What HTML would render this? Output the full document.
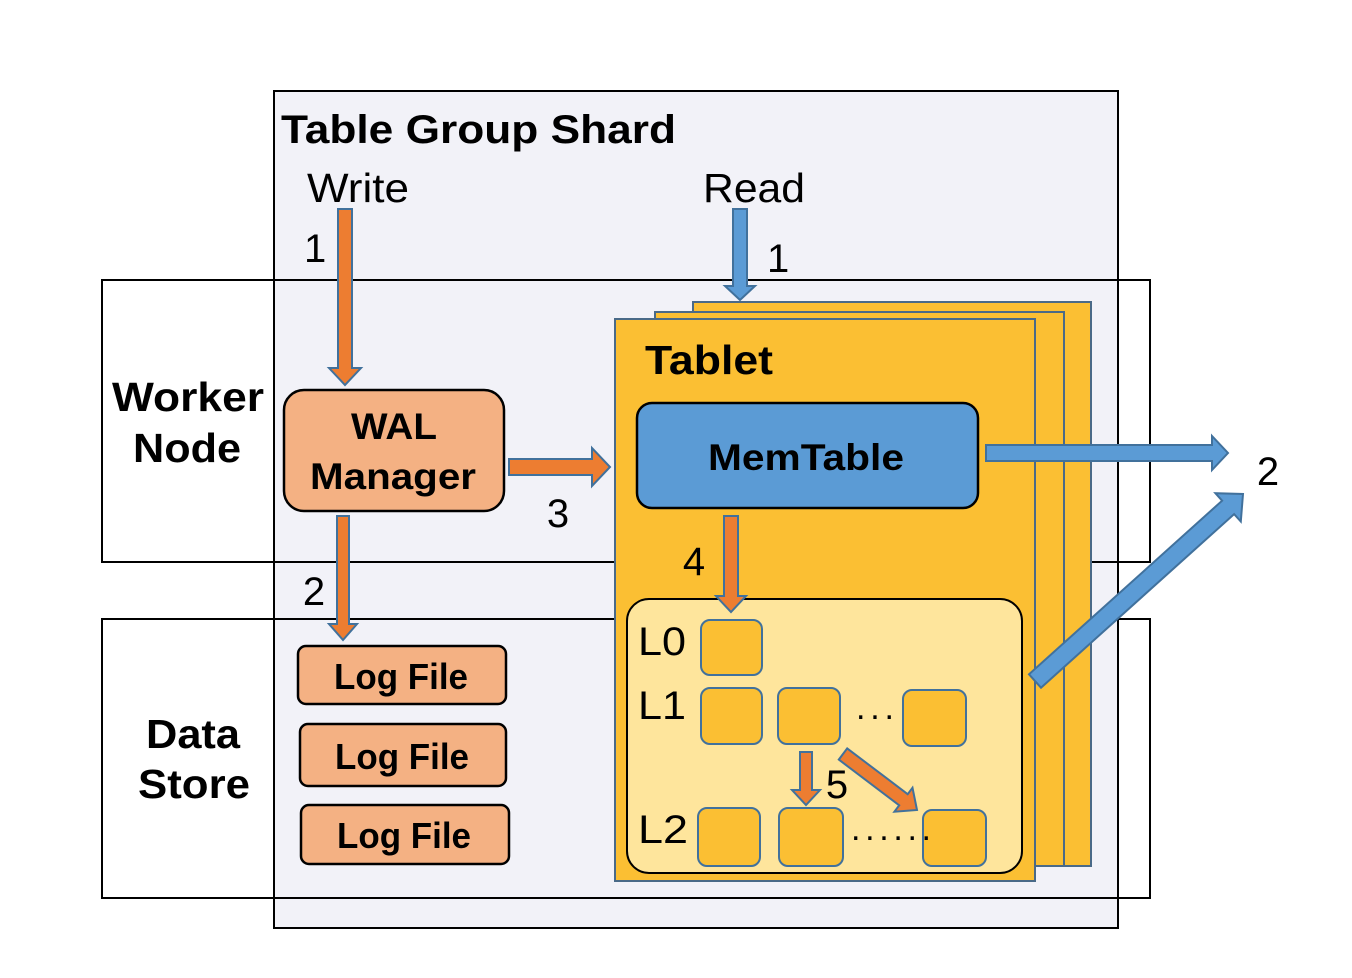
<!DOCTYPE html>
<html><head><meta charset="utf-8"><style>
body{margin:0;background:#fff}
svg{display:block}
text{font-family:"Liberation Sans",Arial,sans-serif;fill:#000}
.b{font-weight:bold}
</style></head><body>
<svg id="s" width="1352" height="978" viewBox="0 0 1352 978" xmlns="http://www.w3.org/2000/svg">
<rect x="274" y="91" width="844" height="837" fill="#f2f2f8"/>
<rect x="102" y="280" width="1048" height="282" fill="none" stroke="#000" stroke-width="2"/>
<rect x="102" y="619" width="1048" height="279" fill="none" stroke="#000" stroke-width="2"/>
<rect x="274" y="91" width="844" height="837" fill="none" stroke="#000" stroke-width="2"/>
<rect x="693" y="302" width="398" height="564" fill="#fbbf33" stroke="#4a6a88" stroke-width="2"/>
<rect x="655" y="312" width="409" height="554" fill="#fbbf33" stroke="#4a6a88" stroke-width="2"/>
<rect x="615" y="319" width="420" height="562" fill="#fbbf33" stroke="#4a6a88" stroke-width="2"/>
<rect x="637" y="403" width="341" height="105" rx="15" fill="#5b9bd5" stroke="#000" stroke-width="2.5"/>
<rect x="627" y="599" width="395" height="274" rx="22" fill="#fee59c" stroke="#000" stroke-width="2"/>
<g fill="#fbbf33" stroke="#41719c" stroke-width="2">
<rect x="701" y="620" width="61" height="55" rx="9"/>
<rect x="701" y="688" width="61" height="56" rx="9"/>
<rect x="778" y="688" width="62" height="56" rx="9"/>
<rect x="903" y="690" width="63" height="56" rx="9"/>
<rect x="698" y="808" width="62" height="58" rx="9"/>
<rect x="779" y="808" width="64" height="58" rx="9"/>
<rect x="923" y="810" width="63" height="56" rx="9"/>
</g>
<rect x="284" y="390" width="220" height="121" rx="20" fill="#f4b183" stroke="#000" stroke-width="2.5"/>
<g fill="#f4b183" stroke="#000" stroke-width="2.5">
<rect x="298" y="646" width="208" height="58" rx="8"/>
<rect x="300" y="724" width="206" height="62" rx="8"/>
<rect x="301" y="805" width="208" height="59" rx="8"/>
</g>
<g id="arrows"></g>
<text x="281" y="143" class="b" font-size="40" textLength="395" lengthAdjust="spacingAndGlyphs">Table Group Shard</text>
<text x="307" y="202" font-size="41" textLength="102" lengthAdjust="spacingAndGlyphs">Write</text>
<text x="703" y="202" font-size="41" textLength="102" lengthAdjust="spacingAndGlyphs">Read</text>
<text x="304" y="262" font-size="40">1</text>
<text x="767" y="272" font-size="40">1</text>
<text x="112" y="411" class="b" font-size="41" textLength="152" lengthAdjust="spacingAndGlyphs">Worker</text>
<text x="133" y="462" class="b" font-size="41" textLength="108" lengthAdjust="spacingAndGlyphs">Node</text>
<text x="146" y="748" class="b" font-size="41" textLength="94" lengthAdjust="spacingAndGlyphs">Data</text>
<text x="138" y="798" class="b" font-size="41" textLength="112" lengthAdjust="spacingAndGlyphs">Store</text>
<text x="645" y="374" class="b" font-size="41" textLength="128" lengthAdjust="spacingAndGlyphs">Tablet</text>
<text x="708" y="470" class="b" font-size="37" textLength="196" lengthAdjust="spacingAndGlyphs">MemTable</text>
<text x="351" y="439" class="b" font-size="37" textLength="86" lengthAdjust="spacingAndGlyphs">WAL</text>
<text x="310" y="489" class="b" font-size="37" textLength="166" lengthAdjust="spacingAndGlyphs">Manager</text>
<text x="334" y="689" class="b" font-size="36" textLength="134" lengthAdjust="spacingAndGlyphs">Log File</text>
<text x="335" y="769" class="b" font-size="36" textLength="134" lengthAdjust="spacingAndGlyphs">Log File</text>
<text x="337" y="848" class="b" font-size="36" textLength="134" lengthAdjust="spacingAndGlyphs">Log File</text>
<text x="558" y="527" font-size="40" text-anchor="middle">3</text>
<text x="314" y="605" font-size="40" text-anchor="middle">2</text>
<text x="694" y="575" font-size="40" text-anchor="middle">4</text>
<text x="1268" y="485" font-size="40" text-anchor="middle">2</text>
<text x="837" y="798" font-size="40" text-anchor="middle">5</text>
<text x="638" y="655" font-size="40" textLength="48" lengthAdjust="spacingAndGlyphs">L0</text>
<text x="638" y="719" font-size="40" textLength="48" lengthAdjust="spacingAndGlyphs">L1</text>
<text x="638" y="843" font-size="40" textLength="50" lengthAdjust="spacingAndGlyphs">L2</text>
<text x="856" y="719" font-size="34" textLength="38" lengthAdjust="spacing">...</text>
<text x="851" y="840" font-size="34" textLength="80" lengthAdjust="spacing">......</text>
</svg>
<script>
function arrow(x1,y1,x2,y2,sw,hw,hl,fill){
 var dx=x2-x1,dy=y2-y1,L=Math.hypot(dx,dy),ux=dx/L,uy=dy/L,px=-uy,py=ux;
 var bx=x2-ux*hl,by=y2-uy*hl;
 var pts=[[x1+px*sw,y1+py*sw],[bx+px*sw,by+py*sw],[bx+px*hw,by+py*hw],[x2,y2],[bx-px*hw,by-py*hw],[bx-px*sw,by-py*sw],[x1-px*sw,y1-py*sw]];
 var p=document.createElementNS("http://www.w3.org/2000/svg","polygon");
 p.setAttribute("points",pts.map(function(a){return a[0].toFixed(1)+","+a[1].toFixed(1)}).join(" "));
 p.setAttribute("fill",fill);p.setAttribute("stroke","#41719c");p.setAttribute("stroke-width","2");
 document.getElementById("arrows").appendChild(p);
}
var O="#ed7d31",B="#5b9bd5";
arrow(345,209,345,385,7,16,17,O);
arrow(740,209,740,300,7,15,14,B);
arrow(509,467,610,467,8,19,18,O);
arrow(343,516,343,640,6,14,16,O);
arrow(731,516,731,612,7,15,16,O);
arrow(986,453,1228,453,8,17,16,B);
arrow(1035,681,1243,494,9,19,20,B);
arrow(806,752,806,805,6,14,15,O);
arrow(843,754,917,810,7,15,17,O);
</script>
</body></html>
